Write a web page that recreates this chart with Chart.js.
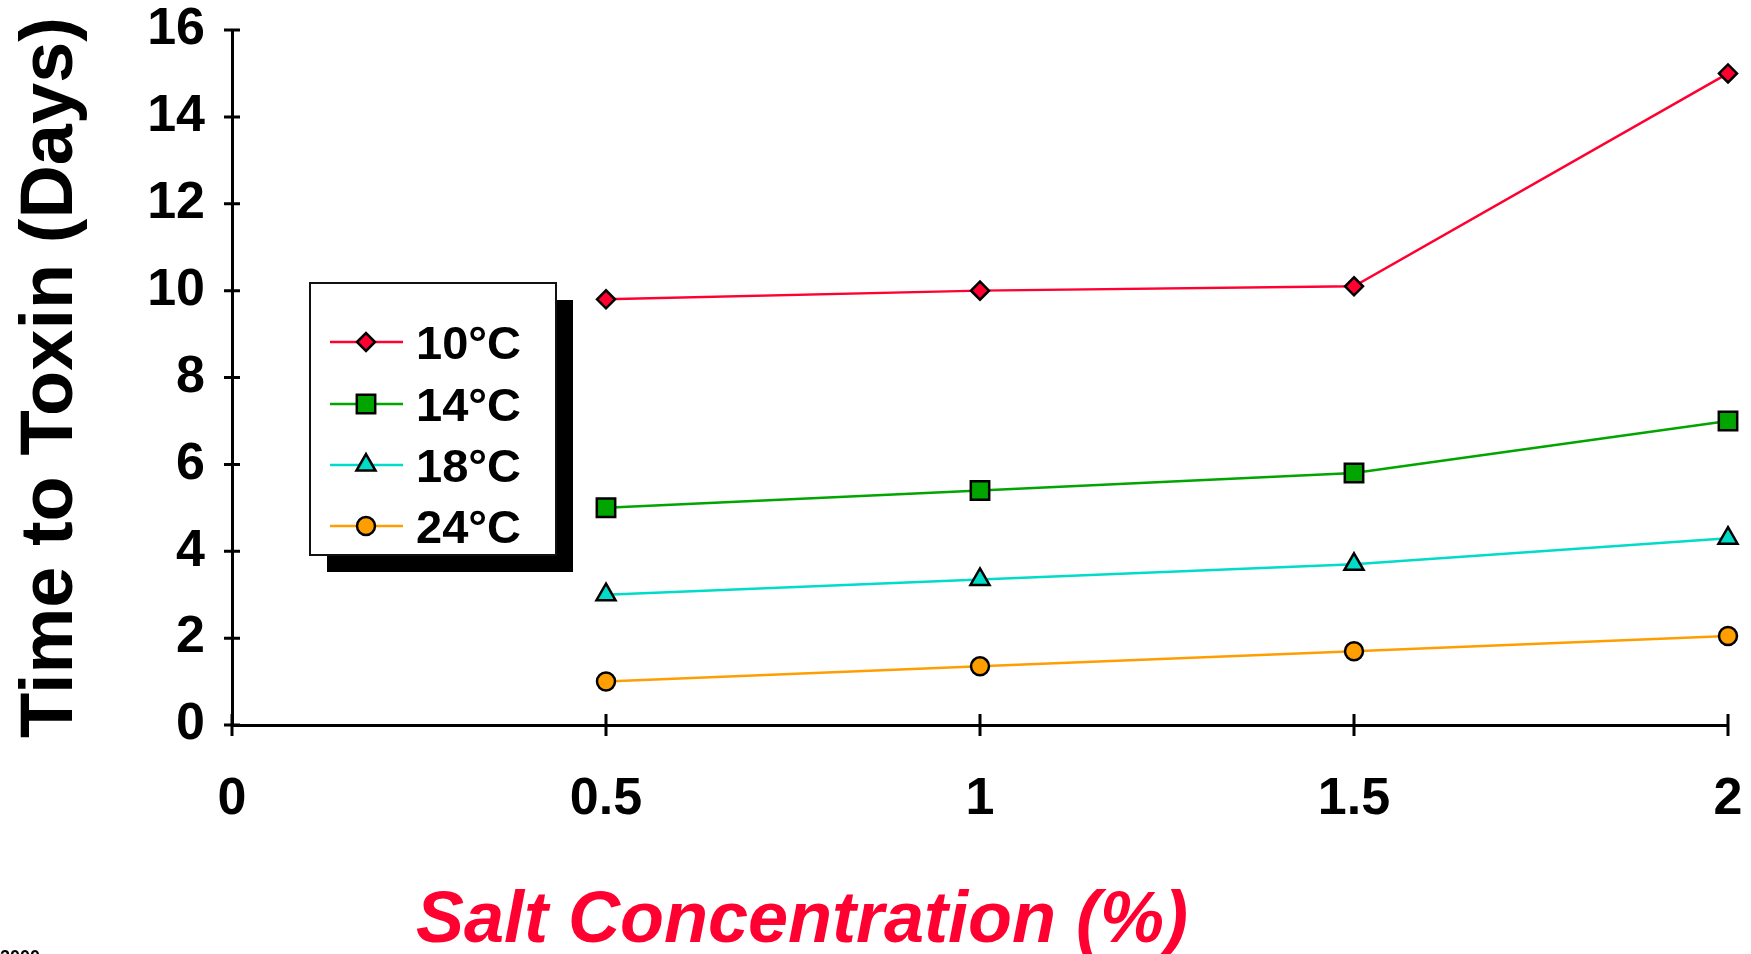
<!DOCTYPE html>
<html>
<head>
<meta charset="utf-8">
<title>Time to Toxin vs Salt Concentration</title>
<script src="https://cdn.jsdelivr.net/npm/chart.js@4.4.1/dist/chart.umd.min.js"></script>
<style>
  html, body { margin: 0; padding: 0; background: #ffffff; overflow: hidden; }
  canvas { display: block; }
</style>
</head>
<body>
<canvas id="toxinChart" width="1751" height="954"></canvas>
<script>
// Salt concentration (%) on the x axis
const saltLevels = [0.5, 1, 1.5, 2];

// Days until toxin is detected, one series per storage temperature
const days10C = [9.8, 10.0, 10.1, 15.0];
const days14C = [5.0, 5.4, 5.8, 7.0];
const days18C = [3.0, 3.35, 3.7, 4.3];
const days24C = [1.0, 1.35, 1.7, 2.05];

const seriesNames = ['10°C', '14°C', '18°C', '24°C'];

// Axis ticks
const xTickValues = [0, 0.5, 1, 1.5, 2];
const xTickLabels = ['0', '0.5', '1', '1.5', '2'];
const yTickValues = [0, 2, 4, 6, 8, 10, 12, 14, 16];
const yTickLabels = ['0', '2', '4', '6', '8', '10', '12', '14', '16'];

const FONT = '"Liberation Sans", Arial, Helvetica, sans-serif';

const seriesStyles = [
  { color: '#FF0030', pointStyle: 'rectRot',  radius: 9 },
  { color: '#00A500', pointStyle: 'rect',     radius: 13 },
  { color: '#00DCC8', pointStyle: 'triangle', radius: 11 },
  { color: '#FF9E00', pointStyle: 'circle',   radius: 9 }
];
const seriesValues = [days10C, days14C, days18C, days24C];

const datasets = seriesValues.map((vals, i) => ({
  label: seriesNames[i],
  data: saltLevels.map((x, j) => ({ x: x, y: vals[j] })),
  borderColor: seriesStyles[i].color,
  backgroundColor: seriesStyles[i].color,
  borderWidth: 2.5,
  pointStyle: seriesStyles[i].pointStyle,
  pointRadius: seriesStyles[i].radius,
  pointBackgroundColor: seriesStyles[i].color,
  pointBorderColor: '#000000',
  pointBorderWidth: 2.5,
  tension: 0,
  clip: false
}));

// Axis tick marks that cross the axis line on both sides
const crossTicks = {
  id: 'crossTicks',
  beforeDatasetsDraw(chart) {
    const { ctx, scales: { x, y } } = chart;
    ctx.save();
    ctx.strokeStyle = '#000000';
    ctx.lineWidth = 3;
    ctx.beginPath();
    const axisY = y.getPixelForValue(0);
    xTickValues.forEach(v => {
      const px = x.getPixelForValue(v);
      ctx.moveTo(px, axisY - 11);
      ctx.lineTo(px, axisY + 11);
    });
    const axisX = x.getPixelForValue(0);
    yTickValues.forEach(v => {
      const py = y.getPixelForValue(v);
      ctx.moveTo(axisX - 8, py);
      ctx.lineTo(axisX + 8, py);
    });
    ctx.stroke();
    ctx.restore();
  }
};

function drawMarker(ctx, style, cx, cy) {
  ctx.fillStyle = style.color;
  ctx.strokeStyle = '#000000';
  ctx.lineWidth = 2.5;
  if (Chart.helpers && Chart.helpers.drawPoint) {
    Chart.helpers.drawPoint(ctx, {
      pointStyle: style.pointStyle, radius: style.radius, rotation: 0, borderWidth: 2.5
    }, cx, cy);
    return;
  }
  const r = style.radius;
  ctx.beginPath();
  if (style.pointStyle === 'circle') {
    ctx.arc(cx, cy, r, 0, Math.PI * 2);
  } else if (style.pointStyle === 'rect') {
    const s = r * Math.SQRT1_2;
    ctx.rect(cx - s, cy - s, 2 * s, 2 * s);
  } else if (style.pointStyle === 'rectRot') {
    ctx.moveTo(cx - r, cy); ctx.lineTo(cx, cy - r);
    ctx.lineTo(cx + r, cy); ctx.lineTo(cx, cy + r);
  } else {
    ctx.moveTo(cx, cy - r);
    ctx.lineTo(cx + Math.sin(2 * Math.PI / 3) * r, cy + r / 2);
    ctx.lineTo(cx - Math.sin(2 * Math.PI / 3) * r, cy + r / 2);
  }
  ctx.closePath();
  ctx.fill();
  ctx.stroke();
}

// Boxed legend with a drop shadow, placed inside the plot
const boxedLegend = {
  id: 'boxedLegend',
  afterDatasetsDraw(chart) {
    const ctx = chart.ctx;
    const box = { x: 310, y: 283, w: 246, h: 272 };
    ctx.save();
    ctx.fillStyle = '#000000';
    ctx.fillRect(box.x + 17, box.y + 17, box.w, box.h);
    ctx.fillStyle = '#ffffff';
    ctx.fillRect(box.x, box.y, box.w, box.h);
    ctx.strokeStyle = '#111111';
    ctx.lineWidth = 2;
    ctx.strokeRect(box.x, box.y, box.w, box.h);

    const rowY = [342, 404, 465, 526];
    seriesNames.forEach((name, i) => {
      const st = seriesStyles[i];
      const cy = rowY[i];
      ctx.strokeStyle = st.color;
      ctx.lineWidth = 2.5;
      ctx.beginPath();
      ctx.moveTo(330, cy);
      ctx.lineTo(403, cy);
      ctx.stroke();
      drawMarker(ctx, st, 366, cy);
      ctx.fillStyle = '#000000';
      ctx.font = 'bold 47px ' + FONT;
      ctx.textAlign = 'left';
      ctx.textBaseline = 'alphabetic';
      ctx.fillText(name, 416, cy + 17);
    });
    ctx.restore();
  }
};

// X axis title and footer text
const extraText = {
  id: 'extraText',
  afterDraw(chart) {
    const ctx = chart.ctx;
    ctx.save();
    ctx.fillStyle = '#FF0030';
    ctx.font = 'italic bold 72px ' + FONT;
    ctx.textAlign = 'left';
    ctx.textBaseline = 'alphabetic';
    ctx.fillText('Salt Concentration (%)', 416, 942);
    ctx.fillStyle = '#000000';
    ctx.font = 'bold 18px ' + FONT;
    ctx.fillText('2000', 0, 963);
    ctx.restore();
  }
};

new Chart(document.getElementById('toxinChart'), {
  type: 'line',
  data: { datasets: datasets },
  plugins: [crossTicks, boxedLegend, extraText],
  options: {
    responsive: false,
    animation: false,
    devicePixelRatio: 1,
    layout: { padding: { top: 30, right: 23, bottom: 0, left: 0 } },
    plugins: {
      legend: { display: false },
      tooltip: { enabled: false }
    },
    scales: {
      x: {
        type: 'linear',
        min: 0,
        max: 2,
        afterBuildTicks: s => { s.ticks = xTickValues.map(v => ({ value: v })); },
        afterFit: s => {
          s.height = 229;
          s.paddingLeft = 0;
          s.paddingRight = 0;
        },
        ticks: {
          callback: v => { const k = xTickValues.indexOf(v); return k >= 0 ? xTickLabels[k] : ''; },
          font: { family: FONT, size: 52, weight: 'bold' },
          color: '#000000',
          padding: 43,
          maxRotation: 0,
          autoSkip: false
        },
        grid: { display: false, drawTicks: false },
        border: { display: true, color: '#000000', width: 3 }
      },
      y: {
        type: 'linear',
        min: 0,
        max: 16,
        afterBuildTicks: s => { s.ticks = yTickValues.map(v => ({ value: v })); },
        afterFit: s => {
          s.width = 232;
          s.paddingTop = 0;
          s.paddingBottom = 0;
        },
        ticks: {
          callback: v => { const k = yTickValues.indexOf(v); return k >= 0 ? yTickLabels[k] : ''; },
          font: { family: FONT, size: 52, weight: 'bold' },
          color: '#000000',
          padding: 27,
          autoSkip: false
        },
        grid: { display: false, drawTicks: false },
        border: { display: true, color: '#000000', width: 3 },
        title: {
          display: true,
          text: 'Time to Toxin (Days)',
          color: '#000000',
          font: { family: FONT, size: 74, weight: 'bold' },
          padding: { top: 7, bottom: 0 }
        }
      }
    }
  }
});
</script>
</body>
</html>
